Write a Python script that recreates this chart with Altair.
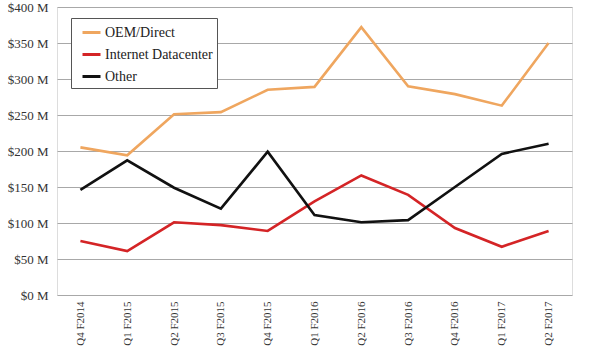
import altair as alt
import pandas as pd

quarters = ["Q4 F2014", "Q1 F2015", "Q2 F2015", "Q3 F2015", "Q4 F2015", "Q1 F2016",
            "Q2 F2016", "Q3 F2016", "Q4 F2016", "Q1 F2017", "Q2 F2017"]
oem = [205, 194, 251, 254, 285, 289, 372, 290, 279, 263, 350]
internet = [75, 61, 101, 97, 89, 130, 166, 139, 93, 67, 89]
other = [146, 187, 149, 120, 199, 111, 101, 104, 150, 196, 210]

series = ["OEM/Direct", "Internet Datacenter", "Other"]
colors = ["#EFA65F", "#D42426", "#111111"]

rows = []
for name, vals in zip(series, [oem, internet, other]):
    for q, v in zip(quarters, vals):
        rows.append({"quarter": q, "value": v, "series": name})
df = pd.DataFrame(rows)

font = "Liberation Serif"

chart = alt.Chart(df).mark_line(strokeWidth=2.6).encode(
    x=alt.X("quarter:N", sort=quarters, title=None,
            scale=alt.Scale(paddingInner=0, paddingOuter=0.5),
            axis=alt.Axis(labelAngle=-90, ticks=False, domain=False, labelFont=font,
                          labelFontSize=11, labelColor="#333", labelPadding=6)),
    y=alt.Y("value:Q", title=None,
            scale=alt.Scale(domain=[0, 400]),
            axis=alt.Axis(values=[0, 50, 100, 150, 200, 250, 300, 350, 400],
                          labelExpr="'$' + datum.value + ' M'", ticks=False, domain=False,
                          labelFont=font, labelFontSize=13, labelColor="#333",
                          labelPadding=9, gridColor="#A8A8A8", gridWidth=1)),
    color=alt.Color("series:N", sort=series,
                    scale=alt.Scale(domain=series, range=colors),
                    legend=alt.Legend(title=None, orient="none", legendX=14, legendY=11,
                                      symbolType="stroke", symbolStrokeWidth=3, symbolSize=324,
                                      symbolOffset=6,
                                      labelFont=font, labelFontSize=14, labelColor="#222",
                                      strokeColor="#555", padding=4, rowPadding=4,
                                      labelOffset=3,
                                      fillColor="white", labelLimit=300)),
).properties(
    width=515, height=288,
    autosize=alt.AutoSizeParams(type="none"),
    padding={"left": 57, "top": 7, "right": 28, "bottom": 59},
).configure_view(stroke="#888888", strokeWidth=1.2).configure(background="white")

chart.save("out.html", embed_options={"renderer": "svg", "actions": False})
